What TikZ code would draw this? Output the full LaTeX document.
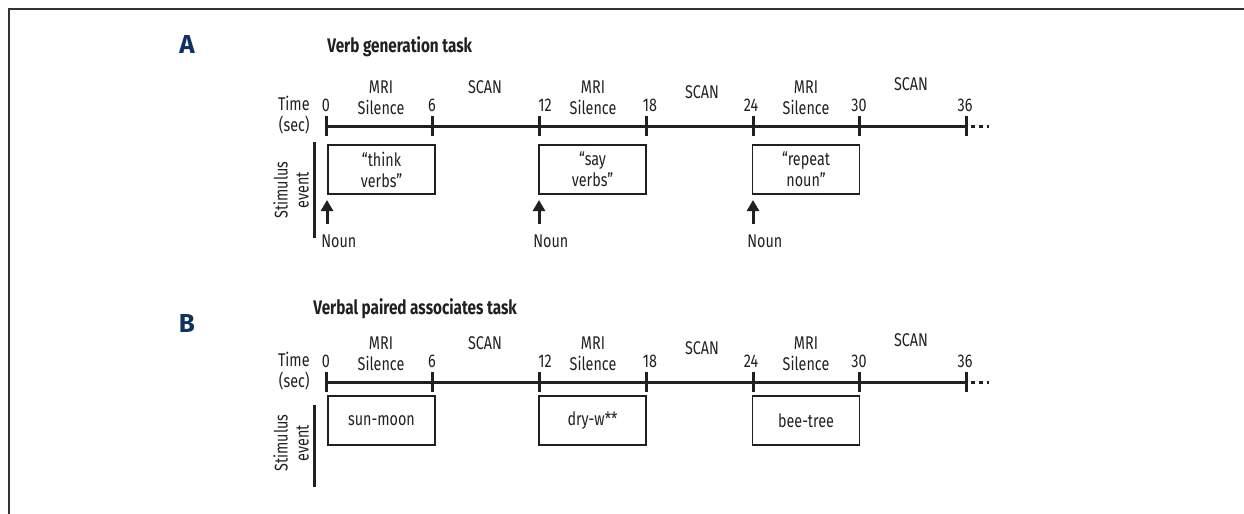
\documentclass[tikz,border=0pt]{standalone}
\usepackage{fontspec}
\setmainfont{Fira Sans}[FakeStretch=0.78]
\newfontfamily\panelfont{Fira Sans}
\usetikzlibrary{arrows.meta}
\definecolor{ink}{RGB}{35,31,32}
\definecolor{panelblue}{RGB}{16,50,96}

\def\scantimeline#1{%
  % axis with ticks
  \draw[axis] (326,0) -- (966,0);
  \foreach \x in {326,432.7,539,646,753,859,966}
    \draw[tick] (\x,-10) -- (\x,10);
  \draw[more] (971,0) -- (989,0);
  % seconds
  \node[lbl] (#1t0)  at (326,-21) {0};
  \node[lbl] (#1t6)  at (432,-21) {6};
  \node[lbl] (#1t12) at (545,-21) {12};
  \node[lbl] (#1t18) at (650,-21) {18};
  \node[lbl] (#1t24) at (751,-21) {24};
  \node[lbl] (#1t30) at (859,-21) {30};
  \node[lbl] (#1t36) at (965,-21) {36};
  % phases
  \node[lbl,align=center] (#1mri1) at (381,-28) {MRI\\Silence};
  \node[lbl,align=center] (#1mri2) at (593,-28) {MRI\\Silence};
  \node[lbl,align=center] (#1mri3) at (806,-28) {MRI\\Silence};
  \node[lbl] (#1scan1) at (485,-39) {SCAN};
  \node[lbl] (#1scan2) at (702,-34) {SCAN};
  \node[lbl] (#1scan3) at (911,-42) {SCAN};
  % axis label
  \node[lbl,align=right,anchor=east] (#1time) at (310,-11) {Time\\(sec)};
}

\begin{document}
\begin{tikzpicture}[x=0.5pt,y=-0.5pt,
    ink,
    lbl/.style={font=\fontsize{9.2}{10.5}\selectfont,inner sep=0pt,text=ink},
    title/.style={font=\fontsize{9.8}{11}\selectfont\bfseries,inner sep=0pt,anchor=west,text=ink},
    panel/.style={font=\fontsize{13}{13}\selectfont\panelfont\bfseries,inner sep=0pt,text=panelblue},
    axis/.style={line width=1.5pt,draw=ink},
    tick/.style={line width=1.5pt,draw=ink},
    more/.style={line width=1.5pt,draw=ink,dash pattern=on 2pt off 2pt},
    stimbox/.style={draw=ink,line width=0.75pt,minimum width=53.5pt,minimum height=24.5pt,
      inner sep=0pt,align=center,font=\fontsize{9.2}{10.5}\selectfont,text=ink},
    bar/.style={line width=1.5pt,draw=ink},
    cue/.style={line width=1.5pt,draw=ink,-{Triangle[width=6pt,length=5.5pt]}},
    frame/.style={line width=1pt,draw=black!80}]
\useasboundingbox (0,0) rectangle (1244,514);
% frame
\draw[frame] (1244,9) -- (8.5,9) -- (8.5,514);
%
% ============ A: verb generation ============
\node[panel] (labA) at (187,44) {A};
\node[title] (titA) at (327,47) {Verb generation task};
\begin{scope}[shift={(0,126)}]
  \scantimeline{a}
\end{scope}
% stimulus events
\draw[bar] (314,142) -- (314,238);
\node[lbl,rotate=90,align=center] (stimA) at (291,190) {Stimulus\\event};
\node[stimbox] (boxA1) at (381.5,169.5) {“think\\verbs”};
\node[stimbox] (boxA2) at (592.5,169.5) {“say\\verbs”};
\node[stimbox] (boxA3) at (806,169.5) {“repeat\\noun”};
% noun cues
\node[lbl,anchor=west] (nounA1) at (321,241) {Noun};
\node[lbl,anchor=west] (nounA2) at (533,241) {Noun};
\node[lbl,anchor=west] (nounA3) at (747,241) {Noun};
\coordinate (tipA1) at (327,200);
\coordinate (tipA2) at (539,200);
\coordinate (tipA3) at (753,200);
\draw[cue] (nounA1.north west -| tipA1) ++(0,-10) -- (tipA1);
\draw[cue] (nounA2.north west -| tipA2) ++(0,-10) -- (tipA2);
\draw[cue] (nounA3.north west -| tipA3) ++(0,-10) -- (tipA3);
%
% ============ B: verbal paired associates ============
\node[panel] (labB) at (187,323) {B};
\node[title] (titB) at (313,309) {Verbal paired associates task};
\begin{scope}[shift={(0,382)}]
  \scantimeline{b}
\end{scope}
% stimulus events
\draw[bar] (314,405) -- (314,487);
\node[lbl,rotate=90,align=center] (stimB) at (291,443) {Stimulus\\event};
\node[stimbox] (boxB1) at (381.5,420.5) {sun-moon};
\node[stimbox] (boxB2) at (592.5,420.5) {dry-w**};
\node[stimbox] (boxB3) at (806,420.5) {bee-tree};
%
\end{tikzpicture}
\end{document}
